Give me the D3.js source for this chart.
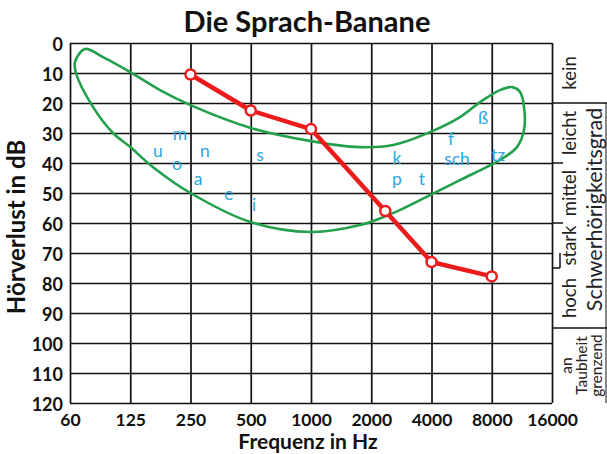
<!DOCTYPE html>
<html>
<head>
<meta charset="utf-8">
<script src="https://cdn.jsdelivr.net/npm/d3@7"></script>
<style>
  html, body { margin: 0; padding: 0; background: #fff; }
  svg { display: block; font-family: Lato, "Open Sans", sans-serif; }
</style>
</head>
<body>
<svg id="chart" width="607" height="454"></svg>
<script>
// ---- data ----
const freqTicks = [62.5, 125, 250, 500, 1000, 2000, 4000, 8000, 16000];
const freqLabels = ["60", "125", "250", "500", "1000", "2000", "4000", "8000", "16000"];
const dbTicks = [0, 10, 20, 30, 40, 50, 60, 70, 80, 90, 100, 110, 120];

// audiogram (red)
const audioFreq = [250, 500, 1000, 2350, 4000, 8000];
const audioDb = [10.5, 22.5, 28.7, 56, 73, 77.8];

// speech banana outline (green)
const bananaFreq = [74.3, 91.4, 125, 176, 250, 500, 1000, 1757, 2569, 3931, 5551, 6988, 8799, 10100, 11074, 11594, 11594, 10694, 8799, 7575, 5551, 3931, 2569, 1757, 1000, 500, 250, 162, 125, 102.5, 81.4, 66.9, 66.2];
const bananaDb = [2, 4.7, 9.7, 15.7, 20.7, 28.3, 32.7, 34.7, 34, 29.7, 24.7, 19.7, 15.7, 14.7, 16.3, 21.3, 29, 34.7, 39, 41.3, 45.7, 50.7, 56.7, 60.7, 63, 59.7, 50, 41.3, 34.7, 30, 21.3, 10, 6.3];

// phonemes
const phonemes = ["m", "u", "n", "o", "s", "a", "e", "i", "ß", "f", "k", "sch", "tz", "p", "t"];
const phonemeFreq = [221.6, 172, 295, 214, 556, 272.6, 389, 519, 7233, 5006, 2689, 5363, 8597, 2689, 3585];
const phonemeDb = [30, 35.7, 35.7, 40, 37.3, 45, 50.3, 53.7, 24.7, 31.8, 38, 38.6, 37.3, 45, 45];

// hearing-loss grades
const gradeLabels = ["kein", "leicht", "mittel", "stark", "hoch"];
const gradeFrom = [0, 20, 40, 60, 75];
const gradeTo = [20, 40, 60, 75, 95];
const deafLines = ["an", "Taubheit", "grenzend"];

// ---- drawing ----
const svg = d3.select("#chart");
const pLeft = 70, pRight = 552, pTop = 43, pBottom = 403;
const x = d3.scaleLog().base(2).domain([62.5, 16000]).range([pLeft, pRight]);
const y = d3.scaleLinear().domain([0, 120]).range([pTop, pBottom]);

// grid via axes
const gx = svg.append("g").attr("transform", `translate(0,${pBottom})`)
  .call(d3.axisBottom(x).tickValues(freqTicks).tickSize(-(pBottom - pTop)).tickPadding(10)
    .tickFormat((d, i) => freqLabels[i]));
gx.select(".domain").remove();
gx.selectAll(".tick line").attr("stroke", "#111").attr("stroke-width", 1.7);
gx.selectAll(".tick text").attr("font-size", 17.5).attr("font-weight", "bold")
  .attr("fill", "#111").attr("font-family", "Lato, sans-serif")
  .attr("dy", null).attr("y", 16).attr("dominant-baseline", "central");

const gy = svg.append("g").attr("transform", `translate(${pLeft},0)`)
  .call(d3.axisLeft(y).tickValues(dbTicks).tickSize(-(pRight - pLeft)).tickPadding(7));
gy.select(".domain").remove();
gy.selectAll(".tick line").attr("stroke", "#111").attr("stroke-width", 1.7);
gy.selectAll(".tick text").attr("font-size", 18).attr("font-weight", "bold")
  .attr("fill", "#111").attr("font-family", "Lato, sans-serif")
  .attr("dy", null).attr("dominant-baseline", "central");

// right-side annotation lines
const ann = svg.append("g").attr("stroke", "#111").attr("stroke-width", 1.5);
ann.append("line").attr("x1", pRight).attr("x2", 607).attr("y1", y(20)).attr("y2", y(20));
ann.append("line").attr("x1", pRight).attr("x2", 563).attr("y1", y(40)).attr("y2", y(40));
ann.append("line").attr("x1", pRight).attr("x2", 563).attr("y1", y(60)).attr("y2", y(60));
ann.append("line").attr("x1", pRight).attr("x2", 560).attr("y1", y(75)).attr("y2", y(75));
ann.append("line").attr("x1", 560).attr("x2", 560).attr("y1", y(70)).attr("y2", y(75));
ann.append("line").attr("x1", pRight).attr("x2", 607).attr("y1", y(95)).attr("y2", y(95));
ann.append("line").attr("x1", 606).attr("x2", 606).attr("y1", y(20)).attr("y2", y(120)).attr("stroke-width", 1);

// grade labels
gradeLabels.forEach((g, i) => {
  const cy = y((gradeFrom[i] + gradeTo[i]) / 2);
  svg.append("text").attr("transform", `translate(569,${cy}) rotate(-90)`)
    .attr("text-anchor", "middle").attr("dominant-baseline", "central")
    .attr("font-size", 18.5).attr("fill", "#222").text(g);
});
const deafX = [566, 581, 596];
deafLines.forEach((t, i) => {
  svg.append("text").attr("transform", `translate(${deafX[i]},${y(107.5)}) rotate(-90)`)
    .attr("text-anchor", "middle").attr("dominant-baseline", "central")
    .attr("font-size", 15.5).attr("fill", "#222").text(t);
});
svg.append("text").attr("transform", `translate(594,${y(55.5)}) rotate(-90)`)
  .attr("text-anchor", "middle").attr("dominant-baseline", "central")
  .attr("font-size", 21.5).attr("fill", "#222").text("Schwerhörigkeitsgrad");

// banana
const bananaPts = bananaFreq.map((f, i) => [x(f), y(bananaDb[i])]);
svg.append("path").attr("d", d3.line().curve(d3.curveCatmullRomClosed.alpha(0.5))(bananaPts))
  .attr("fill", "none").attr("stroke", "#22a04c").attr("stroke-width", 2.6);

// phonemes
phonemes.forEach((p, i) => {
  svg.append("text").attr("x", x(phonemeFreq[i])).attr("y", y(phonemeDb[i]))
    .attr("text-anchor", "middle").attr("dominant-baseline", "central")
    .attr("font-size", 17.5).attr("fill", "#2aa7df").text(p);
});

// audiogram
const audioPts = audioFreq.map((f, i) => [x(f), y(audioDb[i])]);
svg.append("path").attr("d", d3.line()(audioPts))
  .attr("fill", "none").attr("stroke", "#ec1c1c").attr("stroke-width", 4.5)
  .attr("stroke-linejoin", "round");
svg.selectAll("circle.pt").data(audioPts).join("circle").attr("class", "pt")
  .attr("cx", d => d[0]).attr("cy", d => d[1]).attr("r", 5)
  .attr("fill", "#fff").attr("stroke", "#ec1c1c").attr("stroke-width", 2.5);

// titles
svg.append("text").attr("x", 307).attr("y", 32).attr("text-anchor", "middle")
  .attr("font-size", 29).attr("font-weight", "bold").attr("fill", "#111").text("Die Sprach-Banane");
svg.append("text").attr("x", 308).attr("y", 449).attr("text-anchor", "middle")
  .attr("font-size", 21).attr("font-weight", "bold").attr("fill", "#111").text("Frequenz in Hz");
svg.append("text").attr("transform", `translate(15,227) rotate(-90)`)
  .attr("text-anchor", "middle").attr("dominant-baseline", "central")
  .attr("font-size", 24).attr("font-weight", "bold").attr("fill", "#111").text("Hörverlust in dB");
</script>
</body>
</html>
